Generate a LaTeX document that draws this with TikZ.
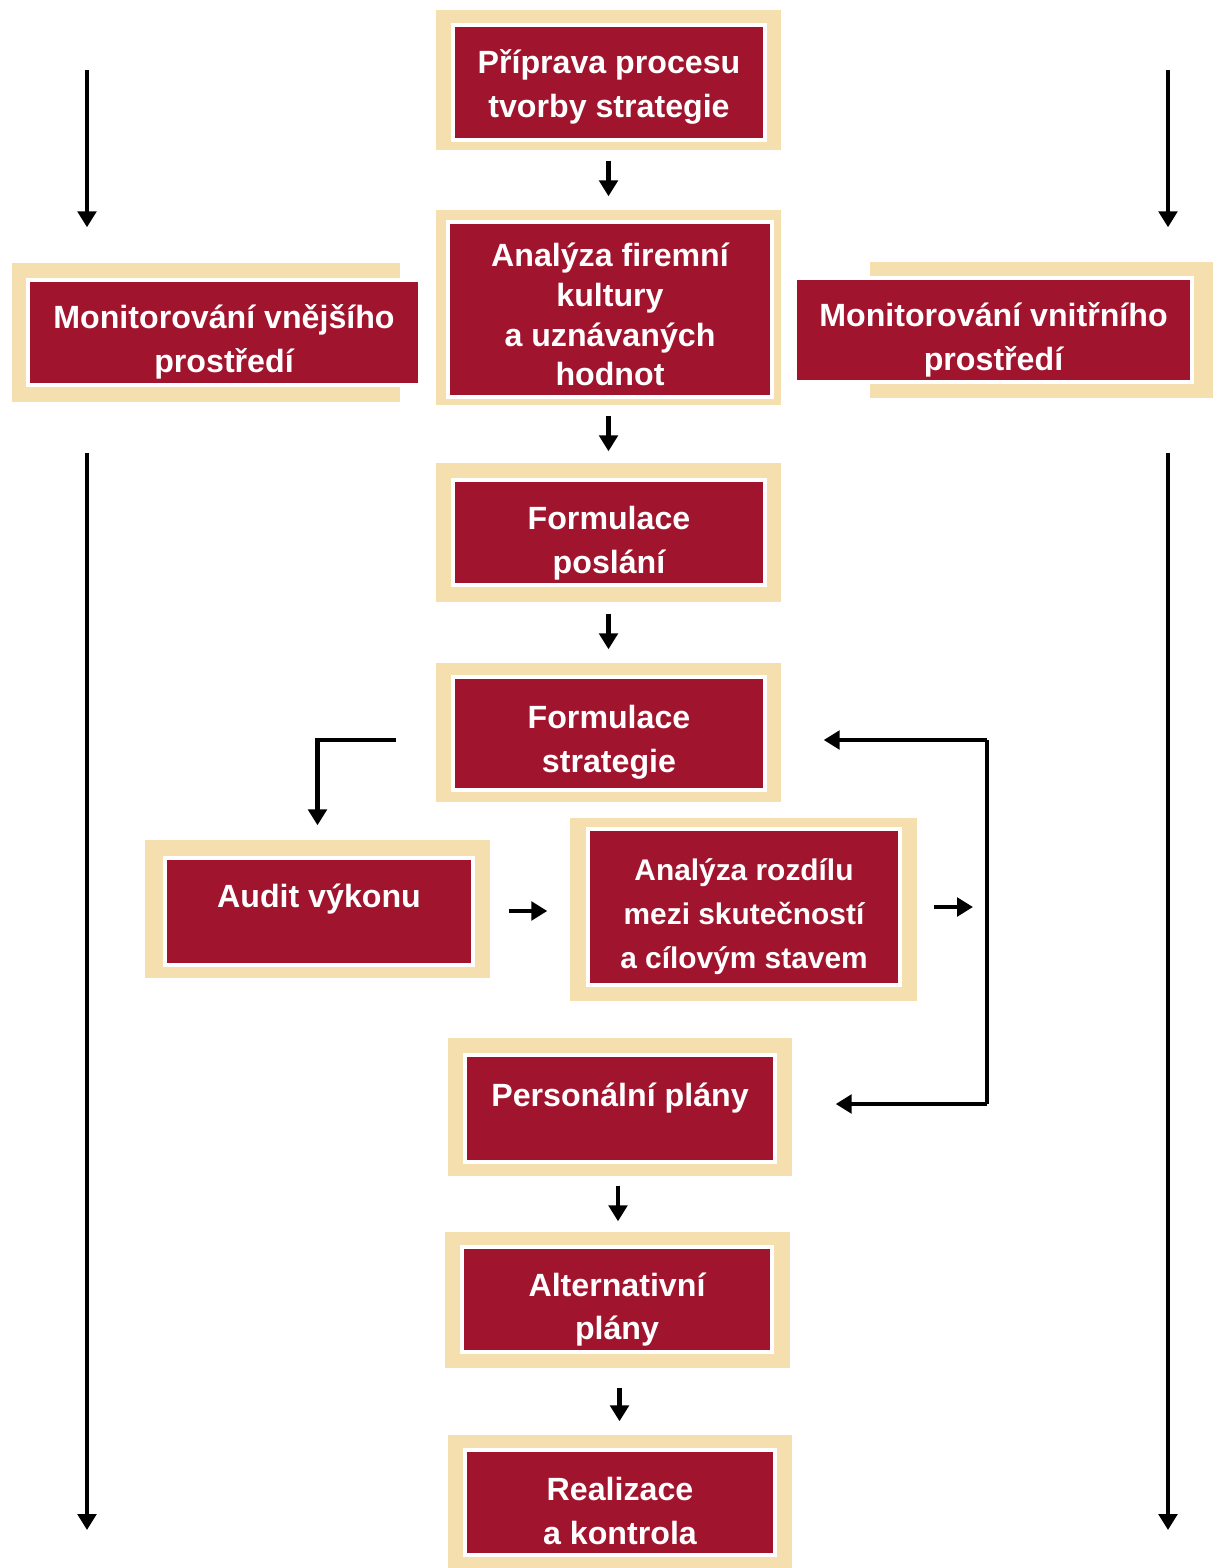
\documentclass[tikz,border=0pt]{standalone}
\usepackage{fontspec}
\setmainfont{Liberation Sans}
\usepackage{tikz}
\usetikzlibrary{arrows.meta, calc}
\definecolor{beige}{RGB}{245, 223, 174}
\definecolor{wine}{RGB}{161, 20, 45}
\newcommand{\boxfont}{\bfseries\fontsize{9.15}{12.5}\selectfont}
\newcommand{\lift}[1][11.6pt]{\rule{0pt}{#1}}

\begin{document}
\begin{tikzpicture}[
    >={Triangle[length=1.6mm, width=1.85mm]},
    outer/.style={fill=beige, inner sep=0pt},
    redbox/.style={fill=wine, draw=white, line width=0.9pt, text=white, font=\boxfont, align=center, inner sep=0pt},
    arr/.style={->, line width=1.2pt},
    longarr/.style={->, line width=1.3pt},
    loopline/.style={line width=1.2pt},
]
\useasboundingbox (0,0) rectangle (12.17,-15.68);

% --- Main column: beige frame first, red box on top ---
\node[outer, minimum width=3.45cm, minimum height=1.40cm] (prepOut) at (6.085,-0.80) {};
\node[redbox, minimum width=3.12cm, minimum height=1.15cm] (prep) at (6.09,-0.825) {\lift[9.4pt]Příprava procesu\\tvorby strategie};

\node[outer, minimum width=3.45cm, minimum height=1.95cm] (kultOut) at (6.085,-3.075) {};
\node[redbox, minimum width=3.24cm, minimum height=1.75cm, font=\bfseries\fontsize{9.15}{11.3}\selectfont] (kult) at (6.10,-3.095) {\lift[9.6pt]Analýza firemní\\kultury\\a uznávaných\\hodnot};

\node[outer, minimum width=3.45cm, minimum height=1.39cm] (poslOut) at (6.085,-5.325) {};
\node[redbox, minimum width=3.12cm, minimum height=1.05cm] (posl) at (6.09,-5.325) {\lift[12.6pt]Formulace\\poslání};

\node[outer, minimum width=3.45cm, minimum height=1.39cm] (stratOut) at (6.085,-7.325) {};
\node[redbox, minimum width=3.12cm, minimum height=1.13cm] (strat) at (6.09,-7.335) {\lift Formulace\\strategie};

\node[outer, minimum width=3.45cm, minimum height=1.38cm] (auditOut) at (3.175,-9.09) {};
\node[redbox, minimum width=3.08cm, minimum height=1.07cm, text depth=0.49cm] (audit) at (3.19,-9.115) {\lift Audit výkonu};

\node[outer, minimum width=3.47cm, minimum height=1.83cm] (gapOut) at (7.435,-9.095) {};
\node[redbox, minimum width=3.12cm, minimum height=1.56cm, font=\bfseries\fontsize{8.5}{12.5}\selectfont] (gap) at (7.44,-9.07) {\lift Analýza rozdílu\\mezi skutečností\\a cílovým stavem};

\node[outer, minimum width=3.44cm, minimum height=1.38cm] (persOut) at (6.20,-11.07) {};
\node[redbox, minimum width=3.10cm, minimum height=1.07cm, text depth=0.45cm] (pers) at (6.20,-11.085) {\lift Personální plány};

\node[outer, minimum width=3.45cm, minimum height=1.36cm] (altOut) at (6.175,-13.0) {};
\node[redbox, minimum width=3.10cm, minimum height=1.05cm] (alt) at (6.17,-12.995) {\lift[12.4pt]Alternativní\\plány};

\node[outer, minimum width=3.44cm, minimum height=1.40cm] (realOut) at (6.20,-15.05) {};
\node[redbox, minimum width=3.10cm, minimum height=1.05cm] (real) at (6.20,-15.025) {\lift Realizace\\a kontrola};

% --- Side boxes (frame shifted against the red box) ---
\node[outer, minimum width=3.88cm, minimum height=1.39cm] (extOut) at (2.06,-3.325) {};
\node[redbox, minimum width=3.92cm, minimum height=1.05cm] (ext) at (2.24,-3.325) {\lift[12.2pt]Monitorování vnějšího\\prostředí};

\node[outer, minimum width=3.43cm, minimum height=1.36cm] (intOut) at (10.415,-3.30) {};
\node[redbox, minimum width=3.97cm, minimum height=1.04cm] (int) at (9.935,-3.30) {\lift[12.2pt]Monitorování vnitřního\\prostředí};

% --- Short arrows down the column ---
\draw[arr, shorten <=0.10cm, shorten >=0.13cm] (prepOut.south) -- (kultOut.north);
\draw[arr, shorten <=0.10cm, shorten >=0.11cm] (kultOut.south) -- (poslOut.north);
\draw[arr, shorten <=0.11cm, shorten >=0.13cm] (poslOut.south) -- (stratOut.north);
\draw[arr, shorten <=0.09cm, shorten >=0.10cm] ([xshift=-0.02cm]persOut.south) -- ([xshift=-0.02cm]persOut.south |- altOut.north);
\draw[arr, shorten <=0.19cm, shorten >=0.13cm] ([xshift=0.02cm]altOut.south) -- ([xshift=0.02cm]altOut.south |- realOut.north);

% --- Strategy branch: elbow to audit, audit to gap analysis ---
\draw[arr, shorten <=0.39cm, shorten >=0.14cm] ([yshift=-0.075cm]stratOut.west) -| (auditOut.north);
\draw[arr, shorten <=0.18cm, shorten >=0.22cm] ([yshift=-0.02cm]auditOut.east) -- ([yshift=-0.02cm]auditOut.east -| gapOut.west);

% --- Feedback loop on the right ---
\coordinate (loopTop) at (9.87,-7.40);
\coordinate (loopBot) at (9.87,-11.04);
\draw[arr, shorten <=0.16cm, shorten >=0.14cm] ([yshift=0.025cm]gapOut.east) -- ([yshift=0.025cm]gapOut.east -| loopTop);
\draw[loopline] (loopTop) -- (loopBot);
\draw[arr, shorten >=0.42cm] (loopTop) -- (loopTop -| stratOut.east);
\draw[arr, shorten >=0.43cm] (loopBot) -- (loopBot -| persOut.east);

% --- Long arrows at both margins ---
\coordinate (extTop) at (0.87,-0.70);
\coordinate (extEnd) at (0.87,-15.30);
\coordinate (intTop) at (11.68,-0.70);
\coordinate (intEnd) at (11.68,-15.30);
\draw[longarr, shorten >=0.35cm] (extTop) -- (extTop |- extOut.north);
\draw[longarr, shorten <=0.50cm] (extEnd |- extOut.south) -- (extEnd);
\draw[longarr, shorten >=0.34cm] (intTop) -- (intTop |- intOut.north);
\draw[longarr, shorten <=0.54cm] (intEnd |- intOut.south) -- (intEnd);

\end{tikzpicture}
\end{document}
